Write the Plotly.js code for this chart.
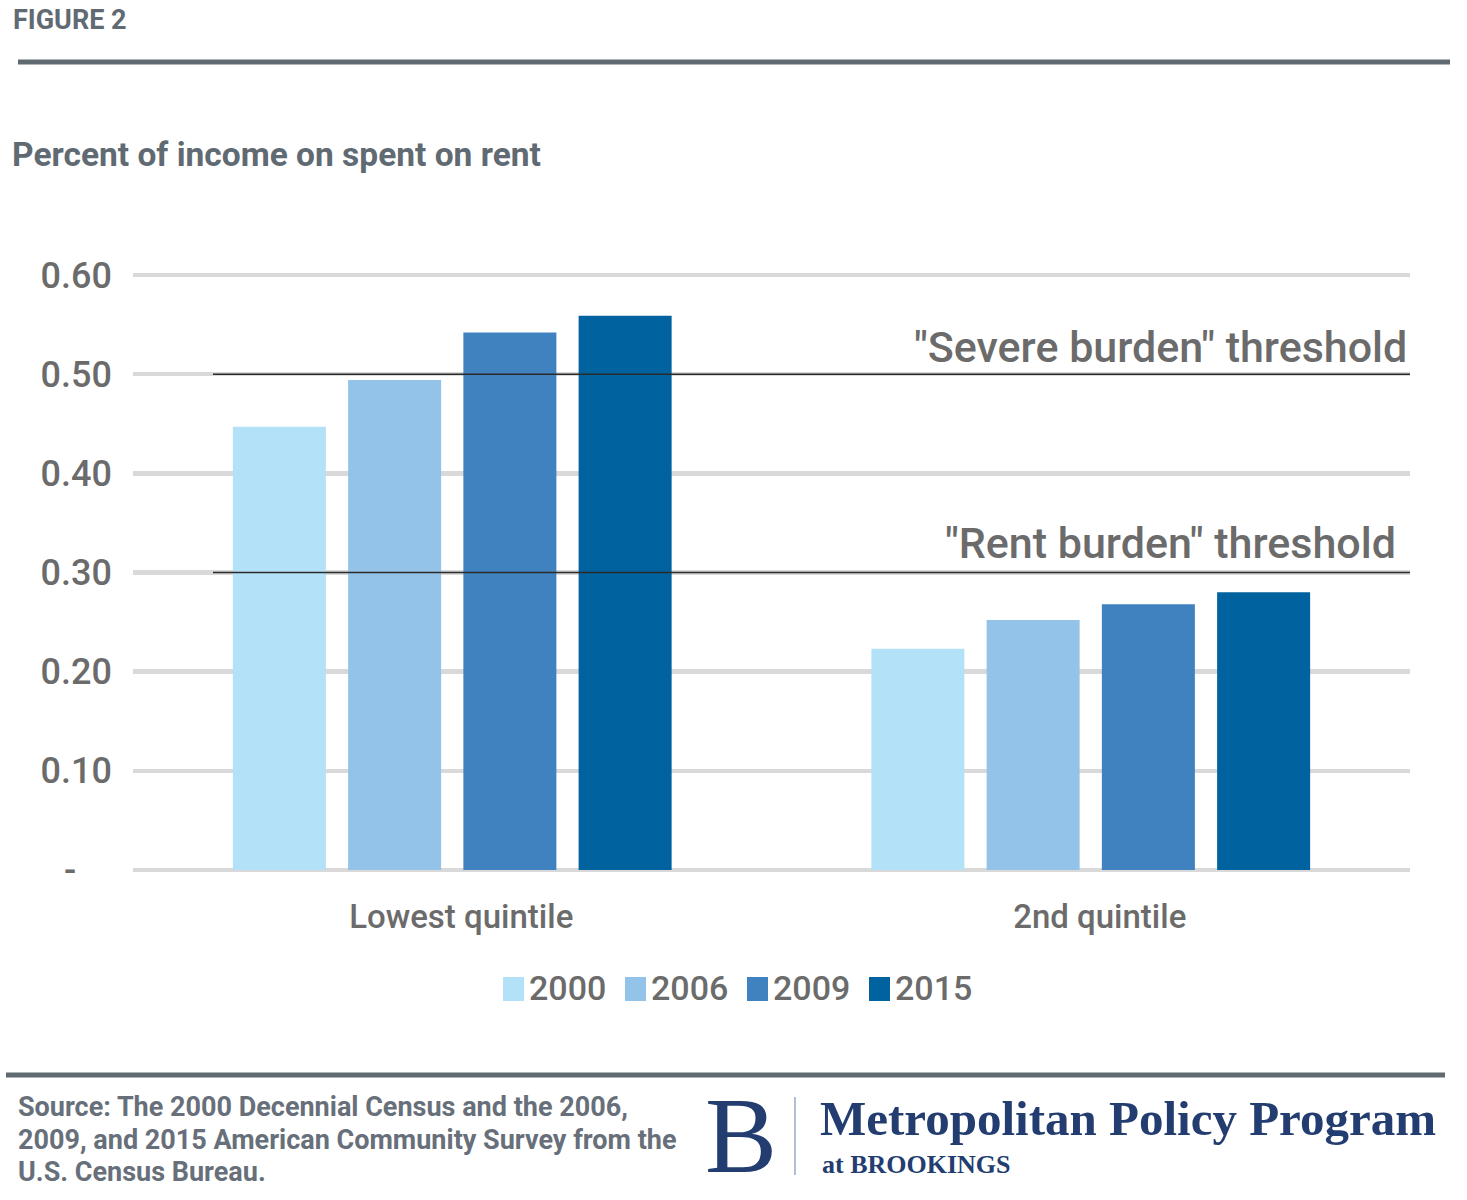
<!DOCTYPE html>
<html>
<head>
<meta charset="utf-8">
<script src="https://cdn.plot.ly/plotly-3.0.1.min.js"></script>
<style>
  html, body { margin: 0; padding: 0; background: #ffffff; }
  #chart { width: 1467px; height: 1200px; }
</style>
</head>
<body>
<div id="chart"></div>
<script>
// data
const categories = ['Lowest quintile', '2nd quintile'];
const years = ['2000', '2006', '2009', '2015'];
const values2000 = [0.447, 0.223];
const values2006 = [0.494, 0.252];
const values2009 = [0.542, 0.268];
const values2015 = [0.559, 0.280];
const seriesValues = [values2000, values2006, values2009, values2015];
const yearColors = ['#b3e1f7', '#93c3e8', '#3f82bf', '#00629e'];

const yTickVals = [0, 0.1, 0.2, 0.3, 0.4, 0.5, 0.6];
const yTickText = ['-\u00a0\u00a0\u00a0\u00a0', '0.10', '0.20', '0.30', '0.40', '0.50', '0.60'];

const thresholds = [0.30, 0.50];
const thresholdLabels = ['"Rent burden" threshold', '"Severe burden" threshold'];

const W = 1467, H = 1200;
const M = { l: 133, r: 57, t: 273, b: 328 };
const plotW = W - M.l - M.r;
const plotH = H - M.t - M.b;

// pixel -> paper helpers for the page furniture
const px = x => (x - M.l) / plotW;
const py = y => (H - M.b - y) / plotH;

const FONT = 'Roboto, "Open Sans", sans-serif';
const SERIF = '"Liberation Serif", "DejaVu Serif", serif';
const GREY = '#6b6b6b';
const SLATE = '#5f6a72';
const NAVY = '#233d70';

const traces = years.map((yr, i) => ({
    type: 'bar',
    name: yr,
    x: categories,
    y: seriesValues[i],
    marker: { color: yearColors[i], line: { width: 0 } },
    hoverinfo: 'skip',
    showlegend: false
}));

function textNote(text, x, y, size, color, weight, anchor, family) {
    return {
        xref: 'paper', yref: 'paper',
        x: px(x), y: py(y),
        text: text,
        showarrow: false,
        xanchor: anchor || 'left',
        yanchor: 'middle',
        font: { family: family || FONT, size: size, color: color, weight: weight || 400 }
    };
}

const annotations = [
    textNote('FIGURE 2', 11, 20, 27, SLATE, 700),
    textNote('Percent of income on spent on rent', 10, 155, 33.5, SLATE, 700),
    textNote('Source: The 2000 Decennial Census and the 2006,', 16, 1107, 27, '#67707a', 700),
    textNote('2009, and 2015 American Community Survey from the', 16, 1140, 27, '#67707a', 700),
    textNote('U.S. Census Bureau.', 16, 1172, 27, '#67707a', 700),
    textNote('B', 703, 1135, 108, NAVY, 400, 'left', SERIF),
    textNote('Metropolitan Policy Program', 818, 1118, 49, NAVY, 700, 'left', SERIF),
    textNote('at BROOKINGS', 820, 1164, 26, NAVY, 700, 'left', SERIF)
];

// threshold labels, anchored to the axis values
thresholds.forEach((t, i) => {
    annotations.push({
        xref: 'paper', yref: 'y',
        x: px(i === 0 ? 1398 : 1409), y: t,
        yshift: i === 0 ? 30 : 27,
        text: thresholdLabels[i],
        showarrow: false,
        xanchor: 'right', yanchor: 'middle',
        font: { family: FONT, size: 43, color: GREY, weight: 500 }
    });
});

const shapes = [
    { type: 'line', xref: 'paper', yref: 'paper', x0: px(18), x1: px(1450), y0: py(62), y1: py(62),
      line: { color: '#5f6a70', width: 5 } },
    { type: 'line', xref: 'paper', yref: 'paper', x0: px(6), x1: px(1445), y0: py(1075), y1: py(1075),
      line: { color: '#5f6a70', width: 5 } },
    { type: 'line', xref: 'paper', yref: 'paper', x0: px(795), x1: px(795), y0: py(1097), y1: py(1175),
      line: { color: '#9aa8bf', width: 1.5 } }
];

thresholds.forEach(t => {
    shapes.push({
        type: 'line', xref: 'paper', yref: 'y', layer: 'above',
        x0: px(213), x1: 1, y0: t, y1: t,
        line: { color: '#2a2a2a', width: 1.5 }
    });
});

// legend drawn by hand so the swatches match the original size
years.forEach((yr, i) => {
    const x0 = 503 + i * 122;
    shapes.push({
        type: 'rect', xref: 'paper', yref: 'paper',
        x0: px(x0), x1: px(x0 + 21), y0: py(1001), y1: py(977),
        fillcolor: yearColors[i], line: { width: 0 }
    });
    annotations.push(textNote(yr, x0 + 24, 988, 34, GREY, 500));
});

const layout = {
    width: W, height: H,
    margin: M,
    paper_bgcolor: '#ffffff',
    plot_bgcolor: '#ffffff',
    barmode: 'group',
    bargap: 0.278,
    bargroupgap: 0.193,
    showlegend: false,
    xaxis: {
        type: 'category',
        showgrid: false,
        showline: false,
        zeroline: false,
        ticks: '',
        ticklabelstandoff: 22,
        ticklabelshift: 9,
        tickfont: { family: FONT, size: 33, color: GREY, weight: 500 }
    },
    yaxis: {
        range: [-0.002, 0.602],
        tickvals: yTickVals,
        ticktext: yTickText,
        showgrid: true,
        gridcolor: '#d9d9d9',
        gridwidth: 4.5,
        zeroline: false,
        showline: false,
        ticks: '',
        ticklabelstandoff: 20,
        tickfont: { family: FONT, size: 36, color: GREY, weight: 500 }
    },
    annotations: annotations,
    shapes: shapes
};

Plotly.newPlot('chart', traces, layout, { displayModeBar: false, staticPlot: true });
</script>
</body>
</html>
